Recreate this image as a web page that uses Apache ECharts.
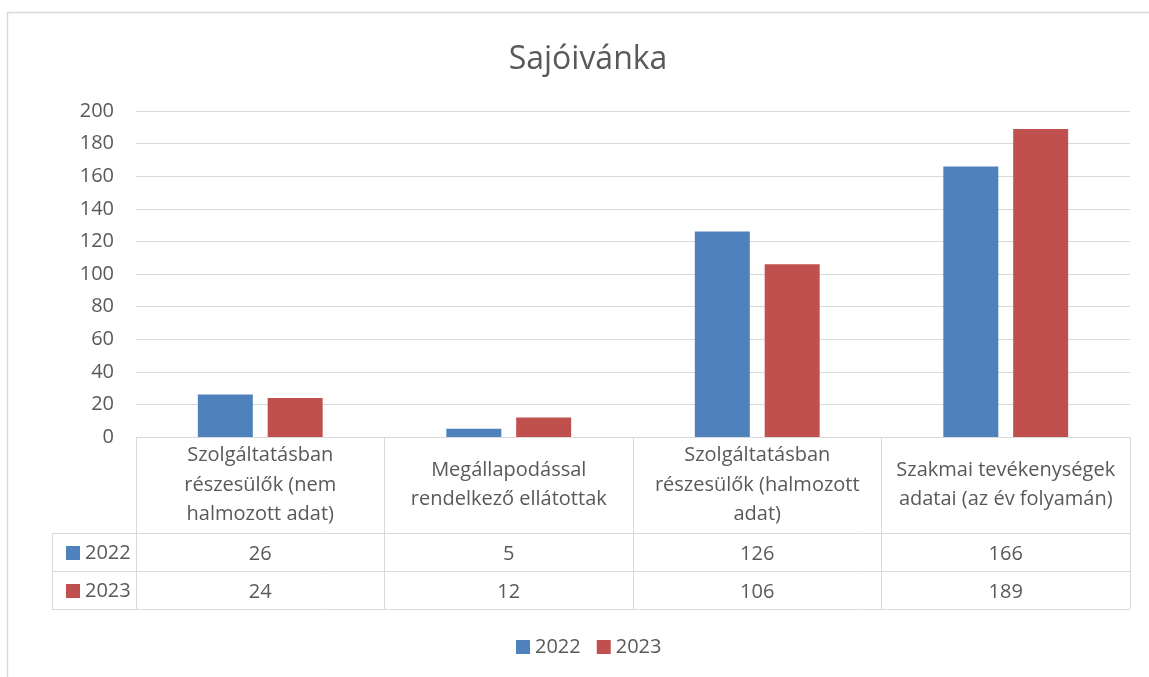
<!DOCTYPE html>
<html>
<head>
<meta charset="utf-8">
<script src="https://cdn.jsdelivr.net/npm/echarts@6/dist/echarts.min.js"></script>
<style>
html, body { margin: 0; padding: 0; background: #fff; }
#main { width: 1149px; height: 677px; }
</style>
</head>
<body>
<div id="main"></div>
<script>
// data
var chartTitle = 'Sajóivánka';
var seriesNames = ['2022', '2023'];
var categories = [
	'Szolgáltatásban\nrészesülők (nem\nhalmozott adat)',
	'Megállapodással\nrendelkező ellátottak',
	'Szolgáltatásban\nrészesülők (halmozott\nadat)',
	'Szakmai tevékenységek\nadatai (az év folyamán)'
];
var values2022 = [26, 5, 126, 166];
var values2023 = [24, 12, 106, 189];
var yMin = 0, yMax = 200, yStep = 20;

// layout
var font = "'Open Sans', 'Noto Sans', sans-serif";
var textColor = '#595959';
var lineColor = '#d9d9d9';
var gridLeft = 136, gridRight = 1130, gridTop = 111, gridBottom = 437;
var tableLeft = 52, headerH = 96, rowH = 38;
var colors = ['#4f81bd', '#c0504d'];

var myChart = echarts.init(document.getElementById('main'));

function tableLines() {
	var items = [];
	var ys = [gridBottom + headerH, gridBottom + headerH + rowH, gridBottom + headerH + 2 * rowH];
	for (var i = 0; i < ys.length; i++) {
		items.push({
			type: 'line',
			shape: { x1: tableLeft, y1: ys[i] + 0.5, x2: gridRight, y2: ys[i] + 0.5 },
			style: { stroke: lineColor, lineWidth: 1 }
		});
	}
	items.push({
		type: 'line',
		shape: { x1: tableLeft + 0.5, y1: ys[0], x2: tableLeft + 0.5, y2: ys[2] },
		style: { stroke: lineColor, lineWidth: 1 }
	});
	// outer chart border
	items.push({
		type: 'rect',
		shape: { x: 7.5, y: 12.5, width: 1160, height: 700 },
		style: { fill: null, stroke: lineColor, lineWidth: 1.5 }
	});
	return items;
}

function valueAxis(values, margin) {
	return {
		type: 'category',
		data: categories,
		position: 'bottom',
		gridIndex: 0,
		axisLine: { show: false },
		axisTick: { show: false },
		axisLabel: {
			interval: 0,
			margin: margin,
			verticalAlign: 'middle',
			color: textColor,
			fontFamily: font,
			fontSize: 20,
			formatter: function(v, i) { return String(values[i]); }
		}
	};
}

var option = {
	animation: false,
	color: colors,
	title: {
		text: chartTitle,
		left: 583,
		textAlign: 'center',
		top: 39,
		textStyle: { color: textColor, fontFamily: font, fontSize: 32, fontWeight: 'normal' }
	},
	legend: [{
		data: seriesNames,
		left: 511,
		top: 632,
		itemWidth: 14,
		itemHeight: 14,
		itemGap: 16,
		icon: 'rect',
		textStyle: { color: textColor, fontFamily: font, fontSize: 20 }
	}, {
		data: seriesNames,
		orient: 'vertical',
		left: 61,
		top: gridBottom + headerH + 5,
		itemWidth: 14,
		itemHeight: 14,
		itemGap: 18,
		icon: 'rect',
		selectedMode: false,
		textStyle: { color: textColor, fontFamily: font, fontSize: 20 }
	}],
	grid: {
		left: gridLeft,
		right: 1149 - gridRight,
		top: gridTop,
		bottom: 677 - gridBottom
	},
	xAxis: [{
		type: 'category',
		data: categories,
		axisLine: { lineStyle: { color: lineColor } },
		axisTick: { show: true, interval: 0, length: headerH + 2 * rowH, lineStyle: { color: lineColor } },
		axisLabel: {
			interval: 0,
			margin: headerH / 2,
			verticalAlign: 'middle',
			lineHeight: 29.5,
			color: textColor,
			fontFamily: font,
			fontSize: 20
		}
	},
	valueAxis(values2022, headerH + rowH / 2 + 2),
	valueAxis(values2023, headerH + rowH * 1.5 + 2)],
	yAxis: {
		type: 'value',
		min: yMin,
		max: yMax,
		interval: yStep,
		axisLine: { show: false },
		axisTick: { show: false },
		splitLine: { lineStyle: { color: lineColor } },
		axisLabel: { color: textColor, fontFamily: font, fontSize: 20, margin: 22 }
	},
	series: [{
		name: seriesNames[0],
		type: 'bar',
		data: values2022,
		barWidth: 55,
		barGap: '27%'
	}, {
		name: seriesNames[1],
		type: 'bar',
		data: values2023,
		barWidth: 55,
		barGap: '27%'
	}],
	graphic: tableLines()
};

myChart.setOption(option);
</script>
</body>
</html>
